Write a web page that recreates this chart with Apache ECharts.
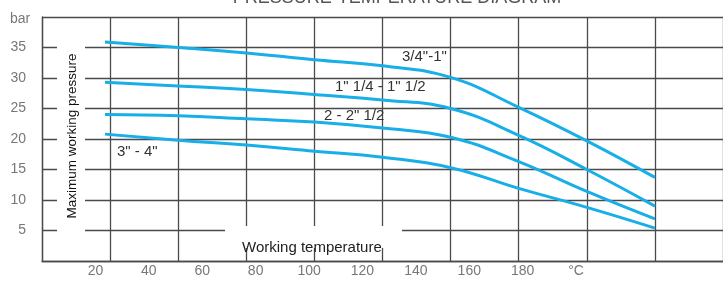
<!DOCTYPE html>
<html>
<head>
<meta charset="utf-8">
<title>Pressure-temperature diagram</title>
<script src="https://cdn.jsdelivr.net/npm/echarts@6/dist/echarts.min.js"></script>
<style>
  html, body { margin: 0; padding: 0; background: #fff; }
  #chart { width: 723px; height: 284px; }
</style>
</head>
<body>
<div id="chart"></div>
<script>
// temperatures (°C, one per grid column) where the curves were read
var temps = [18.5, 40, 60, 80, 100, 120, 140, 160, 180];
// max working pressure (bar) for each size group
var p34to1 = [35.9, 35.0, 34.1, 33.0, 32.0, 30.1, 25.2, 19.7, 13.7];
var p114to112 = [29.3, 28.7, 28.1, 27.3, 26.4, 25.0, 20.6, 15.0, 9.0];
var p2to212 = [24.0, 23.8, 23.3, 22.8, 21.8, 20.3, 16.3, 11.4, 6.9];
var p3to4 = [20.8, 19.8, 19.0, 18.0, 17.0, 15.3, 11.9, 8.8, 5.4];
// tick labels printed under the chart
var xTickLabels = ['20', '40', '60', '80', '100', '120', '140', '160', '180', '°C'];
var yTickLabels = ['5', '10', '15', '20', '25', '30', '35'];

var blue = '#18aee8';
var gridColor = '#4a4a4a';
var font = 'Liberation Sans, Arial, sans-serif';

function pairs(ys) {
    return temps.map(function (t, i) { return [t, ys[i]]; });
}

function curve(name, ys) {
    return {
        name: name,
        type: 'line',
        xAxisIndex: 0,
        data: pairs(ys),
        smooth: 0.45,
        symbol: 'none',
        lineStyle: { color: blue, width: 3 },
        z: 5
    };
}

var chart = echarts.init(document.getElementById('chart'));

var option = {
    animation: false,
    textStyle: { fontFamily: font },
    grid: { left: 42, right: 0, top: 17, bottom: 23, containLabel: false },
    xAxis: [{
        type: 'value',
        min: 0, max: 200, interval: 20,
        axisLine: { show: true, lineStyle: { color: gridColor, width: 1.3 } },
        axisTick: { show: false },
        axisLabel: { show: false },
        splitLine: { show: true, lineStyle: { color: gridColor, width: 1.3 } }
    }, {
        // printed labels sit on their own (narrower) spacing
        type: 'value',
        position: 'bottom',
        min: 0, max: 255, interval: 20,
        axisLine: { show: false },
        axisTick: { show: false },
        splitLine: { show: false },
        axisLabel: {
            margin: 3,
            color: '#777',
            fontSize: 14,
            showMinLabel: false,
            showMaxLabel: false,
            formatter: function (v) {
                var i = v / 20 - 1;
                return (i >= 0 && i < xTickLabels.length) ? xTickLabels[i] : '';
            }
        }
    }],
    yAxis: {
        type: 'value',
        min: 0, max: 40, interval: 5,
        axisLine: { show: true, lineStyle: { color: gridColor, width: 1.3 } },
        axisTick: { show: false },
        splitLine: { show: true, lineStyle: { color: gridColor, width: 1.3 } },
        axisLabel: {
            margin: 16,
            color: '#777',
            fontSize: 14,
            formatter: function (v) {
                var i = v / 5 - 1;
                return (i >= 0 && i < yTickLabels.length) ? yTickLabels[i] : '';
            }
        }
    },
    series: [
        curve('3/4"-1"', p34to1),
        curve('1" 1/4 - 1" 1/2', p114to112),
        curve('2 - 2" 1/2', p2to212),
        curve('3" - 4"', p3to4)
    ],
    graphic: [
        // title, cut at the top edge like the scan
        { type: 'text', x: 397, y: -2, z: 20, style: { text: 'PRESSURE-TEMPERATURE DIAGRAM', font: '18px ' + font, fill: '#555', align: 'center', verticalAlign: 'middle' } },
        { type: 'text', x: 10, y: 19, z: 20, style: { text: 'bar', font: '14px ' + font, fill: '#777', align: 'left', verticalAlign: 'middle' } },
        // white patches behind the axis titles
        { type: 'rect', shape: { x: 57, y: 33, width: 28, height: 207 }, style: { fill: '#fff' }, z: 10 },
        { type: 'rect', shape: { x: 225, y: 226, width: 177, height: 22 }, style: { fill: '#fff' }, z: 10 },
        { type: 'text', x: 72, y: 136, rotation: Math.PI / 2, z: 20, style: { text: 'Maximum working pressure', font: '13.5px ' + font, fill: '#111', align: 'center', verticalAlign: 'middle' } },
        { type: 'text', x: 242, y: 248, z: 20, style: { text: 'Working temperature', font: '15px ' + font, fill: '#222', align: 'left', verticalAlign: 'middle' } },
        // size group labels
        { type: 'text', x: 402, y: 57, z: 20, style: { text: '3/4"-1"', font: '15px ' + font, fill: '#333', align: 'left', verticalAlign: 'middle' } },
        { type: 'text', x: 335, y: 87, z: 20, style: { text: '1" 1/4 - 1" 1/2', font: '15px ' + font, fill: '#333', align: 'left', verticalAlign: 'middle' } },
        { type: 'text', x: 324, y: 116, z: 20, style: { text: '2 - 2" 1/2', font: '15px ' + font, fill: '#333', align: 'left', verticalAlign: 'middle' } },
        { type: 'text', x: 117, y: 152, z: 20, style: { text: '3" - 4"', font: '15px ' + font, fill: '#333', align: 'left', verticalAlign: 'middle' } }
    ]
};

chart.setOption(option);
</script>
</body>
</html>
